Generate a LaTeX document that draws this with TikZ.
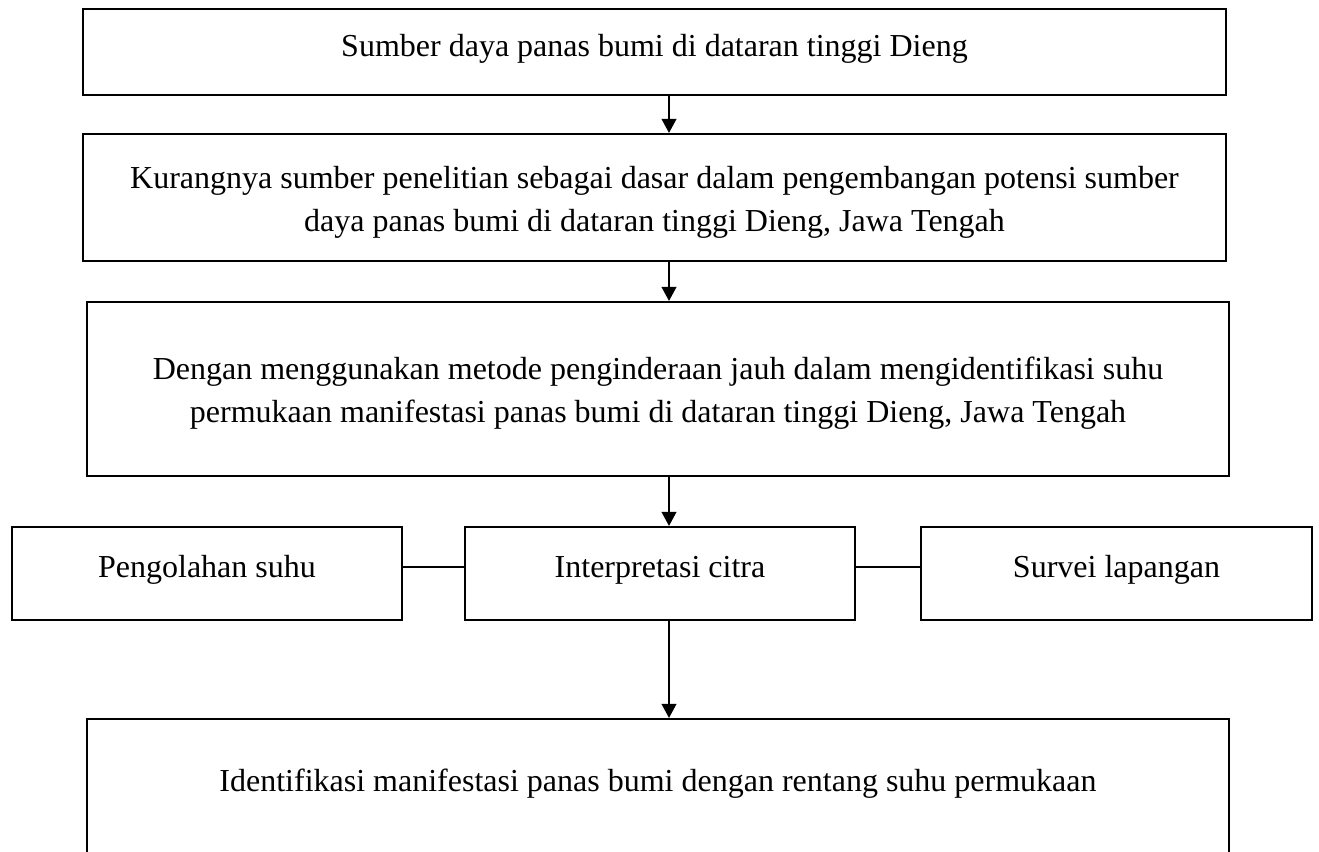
\documentclass[tikz,border=0pt]{standalone}
\usepackage{fontspec}
\setmainfont{Liberation Serif}
\usetikzlibrary{arrows.meta}
\begin{document}
\begin{tikzpicture}[x=0.75pt,y=-0.75pt,
  boxnode/.style={draw,line width=1.6pt,inner sep=0pt,
    font=\fontsize{24pt}{32.25pt}\selectfont},
  onebox/.style={boxnode,text height=0.62em,text depth=0pt},
  twobox/.style={boxnode,text height=41pt,text depth=23pt},
  conn/.style={line width=1.2pt},
  arr/.style={line width=1.3pt,-{Triangle[length=10.5pt,width=11pt]}}]
\useasboundingbox (0,0) rectangle (1319,851);
\node[onebox,minimum width=1143*0.75pt,minimum height=86*0.75pt] (b1) at (654.5,52) {Sumber daya panas bumi di dataran tinggi Dieng};
\node[twobox,minimum width=1143*0.75pt,minimum height=127*0.75pt] (b2) at (654.5,197.5) {\begin{tabular}{@{}c@{}}Kurangnya sumber penelitian sebagai dasar dalam pengembangan potensi sumber\\daya panas bumi di dataran tinggi Dieng, Jawa Tengah\end{tabular}};
\node[twobox,minimum width=1142*0.75pt,minimum height=174*0.75pt] (b3) at (658,389) {\begin{tabular}{@{}c@{}}Dengan menggunakan metode penginderaan jauh dalam mengidentifikasi suhu\\permukaan manifestasi panas bumi di dataran tinggi Dieng, Jawa Tengah\end{tabular}};
\node[onebox,minimum width=390*0.75pt,minimum height=93*0.75pt] (p) at (207,573.5) {Pengolahan suhu};
\node[onebox,minimum width=390*0.75pt,minimum height=93*0.75pt] (i) at (660,573.5) {Interpretasi citra};
\node[onebox,minimum width=391*0.75pt,minimum height=93*0.75pt] (s) at (1116.5,573.5) {Survei lapangan};
\node[onebox,minimum width=1142*0.75pt,minimum height=136*0.75pt] (b5) at (658,787) {Identifikasi manifestasi panas bumi dengan rentang suhu permukaan};
\coordinate (ax) at (669,0);
\coordinate (cy) at (0,567);
\draw[arr] (b1.south -| ax) -- (b2.north -| ax);
\draw[arr] (b2.south -| ax) -- (b3.north -| ax);
\draw[arr] (b3.south -| ax) -- (i.north -| ax);
\draw[arr] (i.south -| ax) -- (b5.north -| ax);
\draw[conn] (p.east |- cy) -- (i.west |- cy);
\draw[conn] (i.east |- cy) -- (s.west |- cy);
\end{tikzpicture}
\end{document}
